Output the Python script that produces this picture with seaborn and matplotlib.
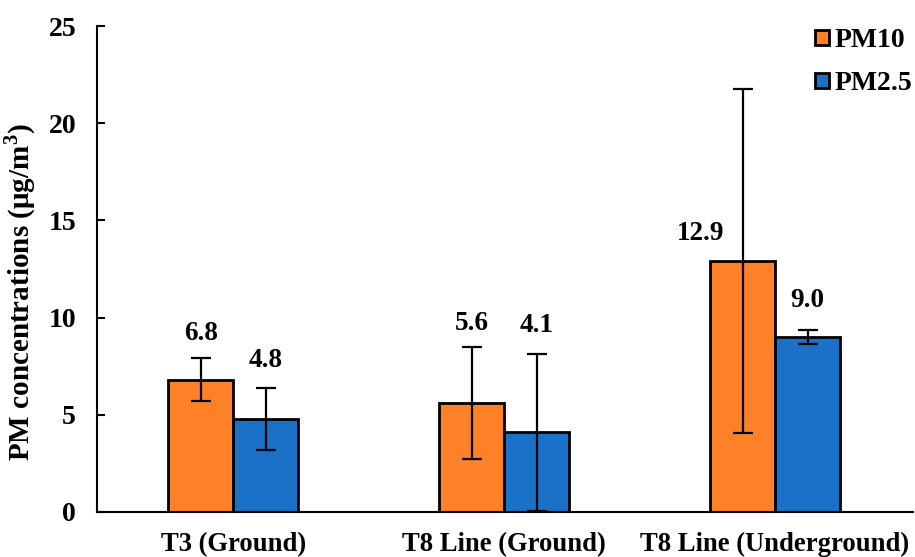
import matplotlib
matplotlib.use("Agg")
import matplotlib.pyplot as plt
import seaborn as sns
import pandas as pd
import numpy as np

categories = ["T3 (Ground)", "T8 Line (Ground)", "T8 Line (Underground)"]
series = ["PM10", "PM2.5"]
pm10 = [6.8, 5.6, 12.9]
pm25 = [4.8, 4.1, 9.0]
pm10_err = [1.1, 2.9, 8.85]
pm25_err = [1.6, 4.05, 0.35]
pm10_label_y = [9.2, 9.7, 14.35]
pm25_label_y = [7.8, 9.6, 10.9]
colors = ["#FE8027", "#1A71C8"]

sns.set_theme(style="white")
plt.rcParams["font.family"] = ["Liberation Serif", "DejaVu Serif"]
plt.rcParams["font.weight"] = "bold"
plt.rcParams["mathtext.fontset"] = "custom"
plt.rcParams["mathtext.rm"] = "Liberation Serif:bold"
plt.rcParams["mathtext.bf"] = "Liberation Serif:bold"
for key in ["text.color", "axes.labelcolor", "xtick.color", "ytick.color", "axes.edgecolor"]:
    plt.rcParams[key] = "black"

FS = 20

df = pd.DataFrame({
    "cat": categories * 2,
    "series": [series[0]] * 3 + [series[1]] * 3,
    "val": pm10 + pm25,
})

fig = plt.figure(figsize=(9.15, 5.57), dpi=100)
ax = fig.add_axes([0.106, 0.081, 0.892, 0.872])
sns.barplot(data=df, x="cat", y="val", hue="series", palette=colors,
            width=0.48, errorbar=None, edgecolor="black", linewidth=2,
            saturation=1, ax=ax)

errs = [pm10_err, pm25_err]
vals = [pm10, pm25]
label_ys = [pm10_label_y, pm25_label_y]
bar_containers = list(ax.containers)[:2]
for k, cont in enumerate(bar_containers):
    for i, bar in enumerate(cont.patches):
        cx = bar.get_x() + bar.get_width() / 2
        ax.errorbar(cx, vals[k][i], yerr=errs[k][i], fmt="none", ecolor="black",
                    elinewidth=1.6, capsize=7, capthick=1.6, zorder=5)
        lx = cx - (0.155 if (k == 0 and i == 2) else 0)
        ax.text(lx, label_ys[k][i], f"{vals[k][i]:.1f}", ha="center", va="center",
                fontsize=19.5, fontweight="bold", color="black")

ax.set_ylim(0, 25)
ax.set_xlim(-0.503, 2.51)
ax.set_yticks([0, 5, 10, 15, 20, 25])
ax.set_xlabel("")
ax.set_ylabel(r"PM concentrations (μg/m$^{3}$)", fontsize=21, fontweight="bold", color="black")
ax.yaxis.set_label_coords(-0.072, 0.453)
ax.tick_params(axis="y", direction="in", length=6, width=1.5, labelsize=FS, pad=15,
               left=True, colors="black")
ax.tick_params(axis="x", length=0, labelsize=19.2, pad=14.5, colors="black")
for lab in ax.get_xticklabels() + ax.get_yticklabels():
    lab.set_fontweight("bold")
for s in ["top", "right"]:
    ax.spines[s].set_visible(False)
for s in ["left", "bottom"]:
    ax.spines[s].set_linewidth(1.5)
    ax.spines[s].set_color("black")

leg = ax.legend(loc="upper right", bbox_to_anchor=(1.029, 1.047), frameon=False,
                handlelength=0.5, handleheight=0.5, handletextpad=0.2,
                labelspacing=0.65, prop={"weight": "bold", "size": FS})
for t in leg.get_texts():
    t.set_color("black")

fig.savefig("out.png", dpi=100)
